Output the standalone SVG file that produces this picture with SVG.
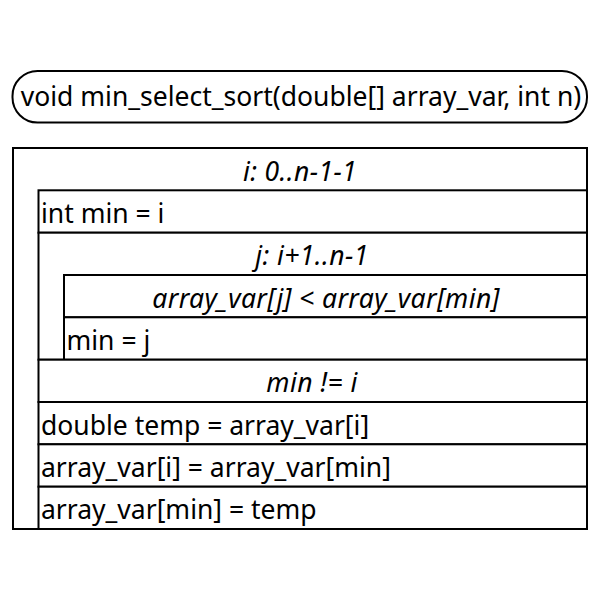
<svg xmlns="http://www.w3.org/2000/svg" width="600" height="600" viewBox="0 0 600 600">
<style>
.box{fill:#fff;stroke:#000;stroke-width:2}
.ln{stroke:#000;stroke-width:2;fill:none}
text{font-family:"Noto Sans","Open Sans",sans-serif;font-size:26.5px;fill:#000}
.it{font-style:italic;text-anchor:middle;letter-spacing:0.4px}
</style>
<rect width="600" height="600" fill="#fff"/>
<g id="header">
<rect class="box" x="12.5" y="71" width="574.5" height="51.5" rx="25" ry="25"/>
<text x="301" y="106" text-anchor="middle">void min_select_sort(double[] array_var, int n)</text>
</g>
<g id="loop_i">
<rect class="box" x="13" y="148" width="574" height="381"/>
<text class="it" x="300" y="180.5">i: 0..n-1-1</text>
</g>
<g id="int_min">
<rect class="box" x="38.5" y="190.3" width="548.5" height="42.4"/>
<text x="41" y="222.5">int min = i</text>
</g>
<g id="loop_j">
<rect class="box" x="38.5" y="232.7" width="548.5" height="127"/>
<text class="it" x="312" y="265">j: i+1..n-1</text>
</g>
<g id="if_j">
<rect class="box" x="64" y="275" width="523" height="42.3"/>
<text class="it" x="326" y="307.5">array_var[j] &lt; array_var[min]</text>
</g>
<g id="min_j">
<rect class="box" x="64" y="317.3" width="523" height="42.4"/>
<text x="66.5" y="349.5">min = j</text>
</g>
<g id="if_min">
<rect class="box" x="38.5" y="359.7" width="548.5" height="42.3"/>
<text class="it" x="312" y="392">min != i</text>
</g>
<g id="temp">
<rect class="box" x="38.5" y="402" width="548.5" height="42.3"/>
<text x="41" y="434.5">double temp = array_var[i]</text>
</g>
<g id="swap1">
<rect class="box" x="38.5" y="444.3" width="548.5" height="42.4"/>
<text x="41" y="476.5">array_var[i] = array_var[min]</text>
</g>
<g id="swap2">
<rect class="box" x="38.5" y="486.7" width="548.5" height="42.3"/>
<text x="41" y="519">array_var[min] = temp</text>
</g>
<g id="connectors"></g>
</svg>
